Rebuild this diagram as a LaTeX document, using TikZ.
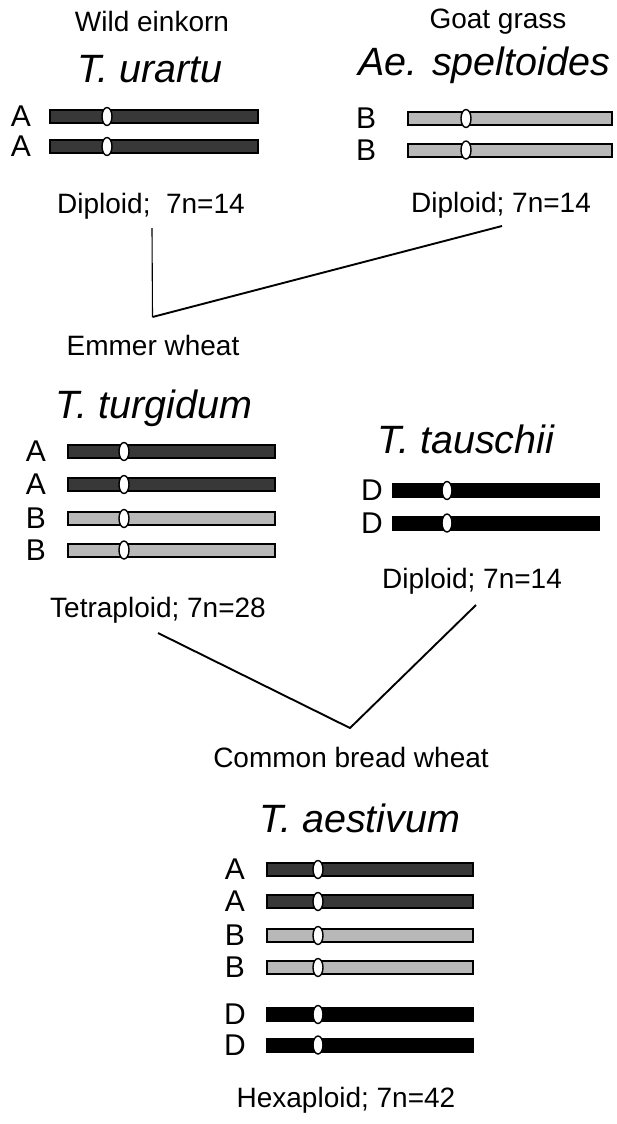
\documentclass[tikz,border=0pt]{standalone}
\usepackage{fontspec}
\setmainfont{Liberation Sans}
\usetikzlibrary{shapes.geometric}
\begin{document}
\begin{tikzpicture}[x=1pt,y=-1pt,
  lbl/.style={font=\fontsize{28}{30}\selectfont, anchor=base, inner sep=0pt},
  sp/.style={font=\fontsize{39.5}{42}\selectfont\itshape, anchor=base, inner sep=0pt},
  chrom/.style={draw=black, line width=2pt, minimum height=13pt, inner sep=0pt, anchor=west},
  chrA/.style={chrom, fill=black!78},
  chrB/.style={chrom, fill=black!28},
  chrD/.style={chrom, fill=black},
  cen/.style={ellipse, draw=black, line width=1.4pt, fill=white, minimum width=10pt, minimum height=18pt, inner sep=0pt},
  letter/.style={font=\fontsize{30}{32}\selectfont, inner sep=0pt},
  link/.style={line width=1.9pt},
  thinlink/.style={line width=1.1pt}
]
\useasboundingbox (0,0) rectangle (617,1124);

% ---- T. urartu ----
\node[lbl] (wild) at (152,32) {Wild einkorn};
\node[sp] (urartu) at (150,82) {T. urartu};
\foreach \y/\n in {116.5/1,146.5/2}{
  \node[chrA, minimum width=208pt] (ua\n) at (49,\y) {};
  \node[cen] (uac\n) at (107,\y) {};
  \node[letter] (ual\n) at (21,\y) {A};
}
\node[lbl] (dipA) at (151,213) {Diploid;\ \ 7n=14};

% ---- Ae. speltoides ----
\node[lbl] (goat) at (498,29) {Goat grass};
\node[sp] (spelt) at (484,76) {Ae. speltoides};
\foreach \y/\n in {118.5/1,150/2}{
  \node[chrB, minimum width=204pt] (sb\n) at (407,\y) {};
  \node[cen] (sbc\n) at (466,\y) {};
  \node[letter] (sbl\n) at (366,\y) {B};
}
\node[lbl] (dipB) at (501,212) {Diploid; 7n=14};

% connector 1
\coordinate (p1) at (152,228);
\coordinate (j1) at (152.5,317);
\coordinate (p2) at (502,226);
\draw[thinlink] (p1) -- (j1);
\draw[link] (j1) -- (p2);

% ---- T. turgidum ----
\node[lbl] (emmer) at (153,355) {Emmer wheat};
\node[sp] (turg) at (154,418) {T. turgidum};
\foreach \y/\n/\s/\l in {451.5/1/chrA/A,484.5/2/chrA/A,518.5/3/chrB/B,550/4/chrB/B}{
  \node[\s, minimum width=207pt] (t\n) at (67,\y) {};
  \node[cen] (tc\n) at (124,\y) {};
  \node[letter] (tl\n) at (36,\y) {\l};
}
\node[lbl] (tetra) at (158,617) {Tetraploid; 7n=28};

% ---- T. tauschii ----
\node[sp] (tausch) at (466,453) {T. tauschii};
\foreach \y/\n in {490.5/1,523/2}{
  \node[chrD, minimum width=206pt] (d\n) at (392,\y) {};
  \node[cen] (dc\n) at (447,\y) {};
  \node[letter] (dl\n) at (372,\y) {D};
}
\node[lbl] (dipD) at (472,588) {Diploid; 7n=14};

% connector 2
\coordinate (p3) at (158,633);
\coordinate (j2) at (350,728);
\coordinate (p4) at (476,605);
\draw[link] (p3) -- (j2) -- (p4);

% ---- T. aestivum ----
\node[lbl] (common) at (351,767) {Common bread wheat};
\node[sp] (aest) at (360,832) {T. aestivum};
\foreach \y/\n/\s/\l in {869.5/1/chrA/A,901.5/2/chrA/A,935.5/3/chrB/B,967.5/4/chrB/B,1014.5/5/chrD/D,1045/6/chrD/D}{
  \node[\s, minimum width=206pt] (h\n) at (266,\y) {};
  \node[cen] (hc\n) at (318,\y) {};
  \node[letter] (hl\n) at (235,\y) {\l};
}
\node[lbl] (hexa) at (346,1107) {Hexaploid; 7n=42};
\end{tikzpicture}
\end{document}
